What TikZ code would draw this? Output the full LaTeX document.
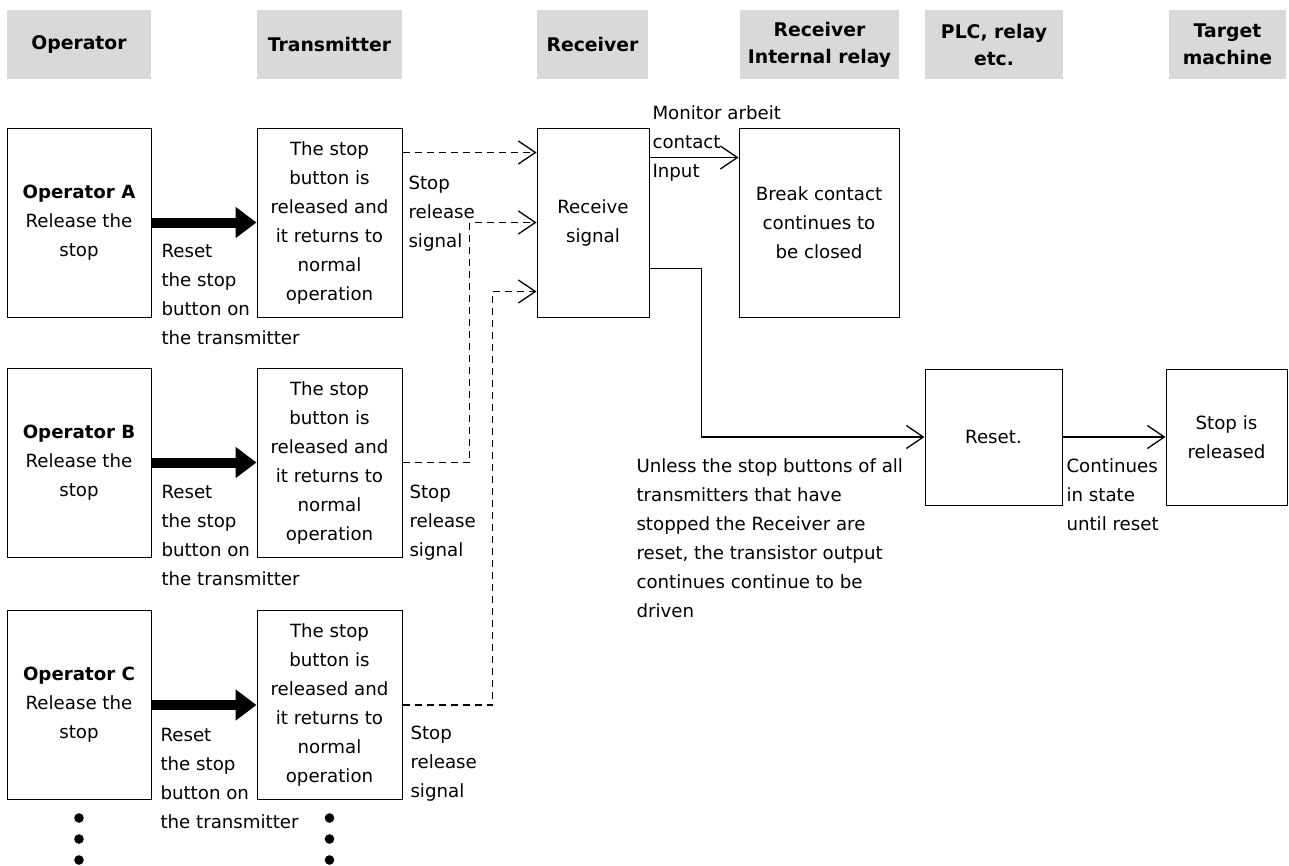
\documentclass[tikz,border=0pt]{standalone}
\usepackage{fontspec}
\setmainfont{DejaVu Sans}
\usepackage{tikz}
\usetikzlibrary{arrows.meta}
\definecolor{headfill}{HTML}{D9D9D9}

\begin{document}
\begin{tikzpicture}[x=1pt,y=-1pt,font=\fontsize{18.2}{29}\selectfont,line width=1pt]
  \tikzstyle{head}=[fill=headfill,minimum height=69pt,align=center,inner sep=0pt,
    font=\fontsize{18.8}{27}\selectfont\bfseries]
  \tikzstyle{box}=[draw,minimum height=189pt,align=center,inner sep=0pt]
  \tikzstyle{note}=[anchor=north west,align=left,inner sep=0pt]
  \tikzstyle{push}=[line width=10pt,-{Triangle[length=21pt,width=30pt]}]
  \tikzstyle{wire}=[line width=1.3pt,-{Straight Barb[length=17pt,width=23pt]}]
  \tikzstyle{radio}=[wire,dash pattern=on 7pt off 5pt]
  \useasboundingbox (0,0) rectangle (1289,865);
  % column heads
  \node[head,minimum width=144pt] (hOp)  at (79,44.5)     {Operator};
  \node[head,minimum width=145pt] (hTx)  at (329.5,44.5)  {Transmitter};
  \node[head,minimum width=111pt] (hRx)  at (592.5,44.5)  {Receiver};
  \node[head,minimum width=159pt] (hRel) at (819.5,44.5)  {Receiver\\Internal relay};
  \node[head,minimum width=138pt] (hPlc) at (994,44.5)    {PLC, relay\\etc.};
  \node[head,minimum width=117pt] (hTgt) at (1227.5,44.5) {Target\\machine};
  % operators and transmitters
  \node[box,minimum width=144pt] (opA) at (79,222.5) {\textbf{Operator A}\\Release the\\stop};
  \node[box,minimum width=145pt] (txA) at (329.5,222.5)
    {The stop\\button is\\released and\\it returns to\\normal\\operation};
  \node[box,minimum width=144pt] (opB) at (79,462.5) {\textbf{Operator B}\\Release the\\stop};
  \node[box,minimum width=145pt] (txB) at (329.5,462.5)
    {The stop\\button is\\released and\\it returns to\\normal\\operation};
  \node[box,minimum width=144pt] (opC) at (79,705) {\textbf{Operator C}\\Release the\\stop};
  \node[box,minimum width=145pt] (txC) at (329.5,705)
    {The stop\\button is\\released and\\it returns to\\normal\\operation};
  % receiver side
  \node[box,minimum width=112pt] (rx)  at (593,222.5) {Receive\\signal};
  \node[box,minimum width=160pt] (brk) at (819,222.5) {Break contact\\continues to\\be closed};
  \node[box,minimum width=137pt,minimum height=136pt] (reset) at (993.5,437) {Reset.};
  \node[box,minimum width=121pt,minimum height=136pt] (stop)  at (1226.5,437) {Stop is\\released};
  % labels
  \node[note] (rsA) at (161,244) {Reset\\the stop\\button on\\the transmitter};
  \node[note] (rsB) at (161,485) {Reset\\the stop\\button on\\the transmitter};
  \node[note] (rsC) at (160,728) {Reset\\the stop\\button on\\the transmitter};
  \node[note] (stA) at (408,175) {Stop\\release\\signal};
  \node[note] (stB) at (409,484) {Stop\\release\\signal};
  \node[note] (stC) at (410,725) {Stop\\release\\signal};
  \node[note] (monLbl) at (652,105) {Monitor arbeit\\contact\\Input};
  \node[note] (unlessLbl) at (636,458) {Unless the stop buttons of all\\transmitters that have\\stopped the Receiver are\\reset, the transistor output\\continues continue to be\\driven};
  \node[note] (contLbl) at (1066,458) {Continues\\in state\\until reset};
  % connectors
  \draw[push] (opA) -- (txA);
  \draw[push] (opB) -- (txB);
  \draw[push] (opC) -- (txC);
  \draw[radio] ([yshift=70pt]txA.east) -- ([yshift=70pt]rx.west);
  \draw[radio] (txB.east) -- ++(67,0) |- (rx.west);
  \draw[radio] (txC.east) -- ++(90,0) |- ([yshift=-69pt]rx.west);
  \draw[wire] ([yshift=65pt]rx.east) -- ([yshift=65pt]brk.west);
  \draw[wire] ([yshift=-46pt]rx.east) -- ++(52,0) |- (reset.west);
  \draw[wire] (reset) -- (stop);
  % more of them
  \foreach \dy in {18,39,60} {
    \fill ([yshift=-\dy pt]opC.south) circle (4.8);
    \fill ([yshift=-\dy pt]txC.south) circle (4.8);
  }
\end{tikzpicture}
\end{document}
